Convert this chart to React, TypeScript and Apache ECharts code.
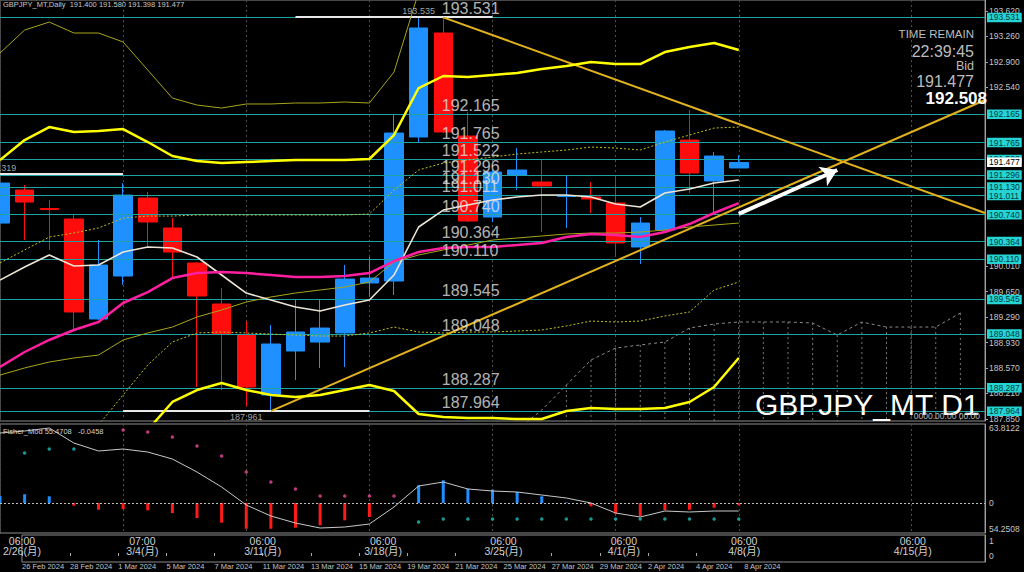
import { useEffect, useRef } from "react";
import * as echarts from "echarts";

const FONT = 'Arial, "Liberation Sans", "Noto Sans CJK JP", sans-serif';

// ---- categories / time axis ----
const categories = [
  "26 Feb 2024", "27 Feb 2024", "28 Feb 2024", "29 Feb 2024", "1 Mar 2024",
  "4 Mar 2024", "5 Mar 2024", "6 Mar 2024", "7 Mar 2024", "8 Mar 2024",
  "11 Mar 2024", "12 Mar 2024", "13 Mar 2024", "14 Mar 2024", "15 Mar 2024",
  "18 Mar 2024", "19 Mar 2024", "20 Mar 2024", "21 Mar 2024", "22 Mar 2024",
  "25 Mar 2024", "26 Mar 2024", "27 Mar 2024", "28 Mar 2024", "29 Mar 2024",
  "1 Apr 2024", "2 Apr 2024", "3 Apr 2024", "4 Apr 2024", "5 Apr 2024", "8 Apr 2024",
  "9 Apr 2024", "10 Apr 2024", "11 Apr 2024", "12 Apr 2024", "13 Apr 2024", "14 Apr 2024",
  "15 Apr 2024", "16 Apr 2024", "17 Apr 2024", "18 Apr 2024",
];
const dateLabelIdx = [0, 2, 4, 6, 8, 10, 12, 14, 16, 18, 20, 22, 24, 26, 28, 30];
const weekIdx = [0, 5, 10, 15, 20, 25, 30, 37];
const weekTime = ["06:00", "07:00", "06:00", "06:00", "06:00", "06:00", "06:00", "06:00"];
const weekDate = ["2/26(月)", "3/4(月)", "3/11(月)", "3/18(月)", "3/25(月)", "4/1(月)", "4/8(月)", "4/15(月)"];

// ---- price axis ----
const priceMin = 187.821;
const priceMax = 193.776;
const priceTicks = [193.62, 193.26, 192.9, 192.54, 190.01, 189.65, 189.29, 188.93, 188.57, 188.21, 187.85];

// ---- candles ----
const opens = [190.621, 191.088, 190.827, 190.678, 189.264, 189.872, 190.975, 190.551, 190.056, 189.476, 189.037, 188.189, 188.811, 188.938, 189.066, 189.773, 189.801, 191.838, 193.309, 191.852, 190.706, 191.300, 191.201, 190.996, 190.989, 190.904, 190.282, 190.522, 191.795, 191.216, 191.400];
const closes = [191.187, 190.918, 190.812, 189.363, 190.027, 191.017, 190.636, 190.211, 189.589, 189.051, 188.302, 188.910, 189.080, 189.136, 189.829, 189.843, 191.894, 193.380, 191.909, 190.650, 191.343, 191.371, 191.145, 191.003, 190.961, 190.339, 190.621, 191.923, 191.329, 191.569, 191.477];
const lows = [190.551, 190.381, 190.240, 189.108, 189.249, 189.745, 190.282, 189.858, 188.302, 188.259, 188.027, 187.961, 188.401, 188.570, 188.585, 189.575, 189.603, 191.767, 191.894, 190.636, 190.636, 191.088, 190.494, 190.551, 190.763, 190.141, 190.042, 190.522, 191.046, 190.763, 191.398];
const highs = [191.258, 191.159, 190.947, 190.735, 190.381, 191.187, 191.060, 190.692, 190.070, 189.702, 189.235, 189.179, 189.532, 189.532, 190.027, 190.141, 192.149, 193.535, 193.531, 192.191, 191.371, 191.682, 191.513, 191.300, 191.201, 191.272, 190.706, 191.937, 192.220, 191.626, 191.580];

// ---- overlays ----
const bandUpper2 = [191.513, 191.795, 191.979, 191.909, 191.923, 191.951, 191.767, 191.569, 191.498, 191.470, 191.484, 191.498, 191.513, 191.513, 191.513, 191.527, 191.866, 192.531, 192.701, 192.686, 192.715, 192.743, 192.800, 192.842, 192.899, 192.870, 192.870, 193.040, 193.111, 193.167, 193.068];
const bandLower2 = [null, null, null, null, null, null, 187.694, 188.090, 188.259, 188.358, 188.259, 188.189, 188.160, 188.189, 188.259, 188.330, 188.245, 187.920, 187.877, 187.863, 187.863, 187.849, 187.849, 187.962, 188.005, 187.991, 187.991, 188.005, 188.090, 188.302, 188.712];
const bandUpper1 = [190.056, 190.240, 190.423, 190.480, 190.551, 190.692, 190.720, 190.720, 190.735, 190.735, 190.735, 190.735, 190.735, 190.735, 190.735, 190.749, 191.088, 191.371, 191.470, 191.513, 191.555, 191.597, 191.626, 191.654, 191.696, 191.682, 191.654, 191.767, 191.866, 191.965, 191.979];
const bandLower1 = [null, null, null, null, 187.764, 188.189, 188.613, 188.938, 189.066, 189.080, 189.066, 189.051, 189.037, 189.023, 189.023, 189.066, 189.150, 189.080, 189.066, 189.080, 189.080, 189.094, 189.108, 189.165, 189.235, 189.221, 189.235, 189.306, 189.363, 189.674, 189.787];
const bandUpper3 = [193.026, 193.351, 193.464, 193.309, 193.309, 193.182, 192.785, 192.389, 192.290, 192.248, 192.305, 192.305, 192.319, 192.319, 192.333, 192.319, 192.757, 193.889, null, null, null, null, null, null, null, null, null, null, null, null, null];
const maSlow = [188.471, 188.571, 188.655, 188.712, 188.754, 188.967, 189.066, 189.150, 189.292, 189.391, 189.504, 189.575, 189.631, 189.674, 189.716, 189.787, 190.070, 190.169, 190.240, 190.310, 190.381, 190.409, 190.438, 190.466, 190.480, 190.480, 190.494, 190.522, 190.565, 190.593, 190.621];
const maFast = [189.815, 189.999, 190.169, 190.013, 190.027, 190.211, 190.282, 190.268, 190.141, 189.886, 189.631, 189.532, 189.433, 189.377, 189.462, 189.532, 189.886, 190.565, 190.805, 190.876, 190.947, 190.989, 191.017, 191.017, 190.989, 190.890, 190.848, 191.046, 191.102, 191.187, 191.230];
const maMid = [188.585, 188.797, 188.967, 189.108, 189.221, 189.490, 189.645, 189.843, 189.914, 189.928, 189.914, 189.886, 189.858, 189.858, 189.872, 189.914, 190.084, 190.211, 190.268, 190.282, 190.282, 190.310, 190.339, 190.423, 190.466, 190.452, 190.423, 190.494, 190.607, 190.763, 190.904];
const cloudSpan = [null, null, null, null, null, null, null, null, null, null, null, null, null, null, null, null, null, null, null, null, null, 187.694, 187.976, 188.330, 188.684, 188.853, 188.896, 188.938, 189.136, 189.193, 189.221, 189.221, 189.221, 189.207, 189.037, 189.221, 189.150, 189.150, 189.150, 189.348, null];
const hatchStart = 23;

// ---- horizontal levels ----
const levels = [193.531, 192.165, 191.765, 191.522, 191.296, 191.130, 191.011, 190.740, 190.364, 190.110, 189.545, 189.048, 188.287, 187.964];
const levelTextIdx = 18;
const bidPrice = 191.477;
const whiteLevels = [
  { from: 12, to: 20, value: 193.535, labelIdx: 17, below: false },
  { from: 0, to: 5, value: 191.319, labelIdx: 0, below: false },
  { from: 5, to: 15, value: 187.961, labelIdx: 10, below: true },
];
const trendLines = [
  { from: 18, fromValue: 193.531, to: 40, toValue: 190.763 },
  { from: 11, fromValue: 187.961, to: 40, toValue: 192.361 },
];
const arrowLine = { from: 30, fromValue: 190.75, to: 34, toValue: 191.371 };

// ---- sub indicator ----
const histo = [7, 8.7, 6.7, -2.7, -6.7, -6, -7.3, -10, -15, -19.7, -25.7, -25.7, -24.7, -22.3, -17.3, -14, 0.5, 17.7, 22.7, 14.3, 13.3, 11, 6.7, 0.5, -3.3, -10.7, -13.3, -7.3, -6.7, -4.7, -2.3];
const indLine = [70, 72, 75, 60, 52, 54, 51, 44, 31, 16, -2, -13, -20, -25, -24, -21, -4, 17, 21, 14, 12, 11, 8, 5, 0, -10, -14, -8, -9, -8, -8];
const pinkDots = [null, null, null, null, null, 73, 71, 66, 57, 47, 31, 21, 14, 7, 7, 7, 7, null, null, null, null, null, null, null, null, null, null, null, null, null, null];
const cyanDots = [null, 50, 54, 54, null, null, null, null, null, null, null, null, null, null, null, null, null, -19, -16, -16, -16, -16, -16, -16, -16, -16, -16, -16, -16, -16, -16];
const indMin = -30;
const indMax = 79;
const indTickValues = [75, 0, -26];
const indTickLabels = ["63.8122", "0", "54.2508"];
const indName = "Fisher_Mod";
const indValues = ["55.4708", "-0.0458"];

const timeTickValues = [1, 0];

function buildOption(): any {
  const isWeek = (i: number) => weekIdx.indexOf(i) >= 0;
  const isDate = (i: number) => dateLabelIdx.indexOf(i) >= 0;
  const last = opens.length - 1;
  const ohlc = opens.map((o, i) => [o, closes[i], lows[i], highs[i]]);

  const gridStyle = { show: true, borderColor: "#8c8c8c", borderWidth: 1, backgroundColor: "transparent" };
  const weekSplit = { show: true, interval: (i: number) => isWeek(i), lineStyle: { color: "#4e4e4e", type: [2, 3] as any, width: 1 } };

  const cyanLabel = (v: number) => ({
    show: true, position: "end", distance: 2, formatter: () => v.toFixed(3),
    backgroundColor: "#25d4d4", color: "#003a3a", fontSize: 8.5, fontFamily: FONT, padding: [1, 2, 0, 2],
  });

  const mlData: any[] = [];
  levels.forEach((v) => mlData.push({ yAxis: v, lineStyle: { color: "#1ea2a2", width: 1, type: "solid" }, label: cyanLabel(v) }));
  mlData.push({
    yAxis: bidPrice, lineStyle: { color: "rgba(0,0,0,0)", width: 0 },
    label: { ...cyanLabel(bidPrice), backgroundColor: "#ffffff", color: "#000" },
  });
  whiteLevels.forEach((w) => {
    const ls = { color: "#e8e8e8", width: 2, type: "solid" };
    mlData.push([
      { coord: [categories[w.from], w.value], lineStyle: ls, label: { show: false } },
      { coord: [categories[w.to], w.value], lineStyle: ls, label: { show: false } },
    ]);
  });
  trendLines.forEach((t) => {
    const ls = { color: "#e2b21c", width: 2, type: "solid" };
    mlData.push([
      { coord: [categories[t.from], t.fromValue], lineStyle: ls, label: { show: false } },
      { coord: [categories[t.to], t.toValue], lineStyle: ls, label: { show: false } },
    ]);
  });
  {
    const ls = { color: "#ffffff", width: 4, type: "solid" };
    mlData.push([
      { coord: [categories[arrowLine.from], arrowLine.fromValue], lineStyle: ls, label: { show: false }, symbol: "none" },
      { coord: [categories[arrowLine.to], arrowLine.toValue], lineStyle: ls, label: { show: false }, symbol: "arrow", symbolSize: 16 },
    ]);
  }

  const lineSeries = (data: any[], color: string, width: number, type: any, z: number) => ({
    type: "line", xAxisIndex: 0, yAxisIndex: 0, data, symbol: "none", silent: true, z,
    lineStyle: { color, width, type }, connectNulls: false,
  });

  const hatchData = cloudSpan
    .map((v, i) => (i >= hatchStart && v != null ? [i, v] : null))
    .filter((d) => d != null);

  return {
    backgroundColor: "#000000",
    animation: false,
    textStyle: { fontFamily: FONT },
    grid: [
      { left: -1, right: 39, top: 0, height: 421, ...gridStyle },
      { left: -1, right: 39, top: 424, height: 109, ...gridStyle },
      { left: -1, right: 39, top: 535, height: 27, ...gridStyle },
    ],
    xAxis: [
      { gridIndex: 0, type: "category", data: categories, boundaryGap: false, axisLine: { show: false }, axisTick: { show: false }, axisLabel: { show: false }, splitLine: weekSplit },
      { gridIndex: 1, type: "category", data: categories, boundaryGap: false, axisLine: { show: false }, axisTick: { show: false }, axisLabel: { show: false }, splitLine: weekSplit },
      {
        gridIndex: 2, type: "category", data: categories, boundaryGap: false, position: "bottom",
        axisLine: { show: false },
        axisTick: { show: true, inside: true, length: 3, interval: (i: number) => isDate(i), lineStyle: { color: "#a8a8a8" } },
        axisLabel: { interval: 0, formatter: (v: string, i: number) => (isDate(i) ? v : ""), align: "left", alignMinLabel: "left", margin: 1, fontSize: 7.5, color: "#c4c4c4", fontFamily: FONT },
        splitLine: { show: false },
      },
      {
        gridIndex: 2, type: "category", data: categories, boundaryGap: false, position: "top",
        axisLine: { show: false }, axisTick: { show: false },
        axisLabel: {
          inside: true, interval: 0, margin: 1, fontSize: 10.5, lineHeight: 10, color: "#d0d0d0", fontFamily: FONT,
          align: "center", alignMinLabel: "center", alignMaxLabel: "center",
          formatter: (_v: string, i: number) => { const k = weekIdx.indexOf(i); return k >= 0 ? weekTime[k] + "\n" + weekDate[k] : ""; },
        },
        splitLine: { show: false },
      },
    ],
    yAxis: [
      {
        gridIndex: 0, type: "value", position: "right", min: priceMin, max: priceMax, scale: true,
        splitLine: { show: false },
        axisLine: { show: true, lineStyle: { color: "#a0a0a0" } },
        axisTick: { show: true, length: 3, customValues: priceTicks, lineStyle: { color: "#a0a0a0" } },
        axisLabel: { customValues: priceTicks, formatter: (v: number) => v.toFixed(3), color: "#c4c4c4", fontSize: 8.5, margin: 4, fontFamily: FONT },
      },
      {
        gridIndex: 1, type: "value", position: "right", min: indMin, max: indMax,
        splitLine: { show: false },
        axisLine: { show: true, lineStyle: { color: "#a0a0a0" } },
        axisTick: { show: false },
        axisLabel: { customValues: indTickValues, formatter: (v: number) => indTickLabels[indTickValues.indexOf(v)] ?? "", color: "#c4c4c4", fontSize: 8.5, margin: 4, fontFamily: FONT },
      },
      {
        gridIndex: 2, type: "value", position: "right", min: -0.4, max: 1.4,
        splitLine: { show: false },
        axisLine: { show: true, lineStyle: { color: "#a0a0a0" } },
        axisTick: { show: false },
        axisLabel: { customValues: timeTickValues, formatter: (v: number) => String(v), color: "#c4c4c4", fontSize: 8.5, margin: 4, fontFamily: FONT },
      },
    ],
    series: [
      {
        type: "custom", xAxisIndex: 0, yAxisIndex: 0, silent: true, z: 1, data: hatchData,
        renderItem: (params: any, api: any) => {
          const p = api.coord([api.value(0), api.value(1)]);
          const cs = params.coordSys;
          return { type: "line", shape: { x1: p[0], y1: p[1], x2: p[0], y2: cs.y + cs.height }, style: { stroke: "#777777", lineWidth: 1, lineDash: [2, 3] } };
        },
      },
      lineSeries(cloudSpan, "#8a8a8a", 1, [3, 3], 1),
      {
        type: "candlestick", xAxisIndex: 0, yAxisIndex: 0, data: ohlc, barWidth: 19, z: 2, silent: true,
        itemStyle: { color: "#1e90ff", color0: "#ff0d0d", borderColor: "#1e90ff", borderColor0: "#ff0d0d", borderWidth: 1 },
        markLine: { silent: true, symbol: ["none", "none"], label: { show: false }, data: mlData, z: 3 },
      },
      lineSeries(bandUpper3, "#a6a61a", 1, "solid", 4),
      lineSeries(maSlow, "#a6a61a", 1, "solid", 4),
      lineSeries(bandUpper1, "#c2c21e", 1, [2, 2], 4),
      lineSeries(bandLower1, "#c2c21e", 1, [2, 2], 4),
      lineSeries(bandUpper2, "#ffff00", 2.5, "solid", 5),
      lineSeries(bandLower2, "#ffff00", 2.5, "solid", 5),
      lineSeries(maFast, "#ece4d4", 1.6, "solid", 5),
      lineSeries(maMid, "#ff1fa0", 2.5, "solid", 5),
      {
        type: "scatter", xAxisIndex: 0, yAxisIndex: 0, silent: true, z: 6, symbolSize: 1,
        itemStyle: { color: "rgba(0,0,0,0)" },
        data: levels.map((v) => [levelTextIdx, v]),
        label: { show: true, position: [-1, -16], formatter: (p: any) => Number(p.value[1]).toFixed(3), color: "#e2e2e2", fontSize: 16, fontFamily: FONT },
      },
      {
        type: "scatter", xAxisIndex: 0, yAxisIndex: 0, silent: true, z: 6, symbolSize: 1,
        itemStyle: { color: "rgba(0,0,0,0)" },
        data: whiteLevels.map((w) => ({ value: [w.labelIdx, w.value], label: { position: w.below ? "bottom" : "top" } })),
        label: { show: true, distance: 1, formatter: (p: any) => Number(p.value[1]).toFixed(3), color: "#cfcfcf", fontSize: 9, fontFamily: FONT },
      },
      // sub window
      {
        type: "bar", xAxisIndex: 1, yAxisIndex: 1, barWidth: 3, silent: true, z: 2,
        data: histo.map((v) => ({ value: v, itemStyle: { color: v >= 0 ? "#1e8fff" : "#ff1a1a" } })),
        markLine: { silent: true, symbol: ["none", "none"], label: { show: false }, data: [{ yAxis: 0, lineStyle: { color: "#bdbdbd", type: [2, 2], width: 1 } }] },
      },
      { type: "line", xAxisIndex: 1, yAxisIndex: 1, data: indLine, symbol: "none", silent: true, z: 3, lineStyle: { color: "#c8c8c8", width: 1 } },
      { type: "scatter", xAxisIndex: 1, yAxisIndex: 1, data: pinkDots, symbolSize: 3.5, silent: true, z: 3, itemStyle: { color: "#e8489a" } },
      { type: "scatter", xAxisIndex: 1, yAxisIndex: 1, data: cyanDots, symbolSize: 3.5, silent: true, z: 3, itemStyle: { color: "#1fbcbc" } },
    ],
    graphic: [
      { type: "text", x: 3, y: 4, style: { text: `GBPJPY_MT,Daily  ${opens[last].toFixed(3)} ${highs[last].toFixed(3)} ${lows[last].toFixed(3)} ${closes[last].toFixed(3)}`, fill: "#c8c8c8", fontSize: 7.5, fontFamily: FONT, verticalAlign: "middle" } },
      { type: "text", x: 3, y: 431, style: { text: `${indName} ${indValues[0]}   ${indValues[1]}`, fill: "#d0d0d0", fontSize: 7.5, fontFamily: FONT, verticalAlign: "middle" } },
      { type: "text", x: 974, y: 34, style: { text: "TIME REMAIN", fill: "#bcbcbc", fontSize: 11.5, fontFamily: FONT, align: "right", verticalAlign: "middle" } },
      { type: "text", x: 974, y: 51, style: { text: "22:39:45", fill: "#bcbcbc", fontSize: 16, fontFamily: FONT, align: "right", verticalAlign: "middle" } },
      { type: "text", x: 974, y: 66, style: { text: "Bid", fill: "#bcbcbc", fontSize: 12.5, fontFamily: FONT, align: "right", verticalAlign: "middle" } },
      { type: "text", x: 974, y: 81, style: { text: closes[last].toFixed(3), fill: "#bcbcbc", fontSize: 16, fontFamily: FONT, align: "right", verticalAlign: "middle" } },
      { type: "text", x: 987, y: 98, z: 10, style: { text: "192.508", fill: "#ffffff", fontSize: 17, fontWeight: "bold", fontFamily: FONT, align: "right", verticalAlign: "middle" } },
      { type: "text", x: 755, y: 404, z: 10, style: { text: "GBPJPY_MT D1", fill: "#ffffff", fontSize: 30, fontFamily: FONT, verticalAlign: "middle" } },
      { type: "text", x: 980, y: 416, z: 10, style: { text: "0000.00.00 00:00", fill: "#bdbdbd", fontSize: 8.5, fontFamily: FONT, align: "right", verticalAlign: "middle" } },
    ],
  };
}

export default function App() {
  const ref = useRef<HTMLDivElement>(null);
  useEffect(() => {
    document.body.style.margin = "0";
    document.body.style.background = "#000";
    const chart = echarts.init(ref.current as HTMLDivElement, null, { renderer: "svg" });
    chart.setOption(buildOption());
    return () => chart.dispose();
  }, []);
  return <div ref={ref} style={{ width: 1024, height: 572 }} />;
}
